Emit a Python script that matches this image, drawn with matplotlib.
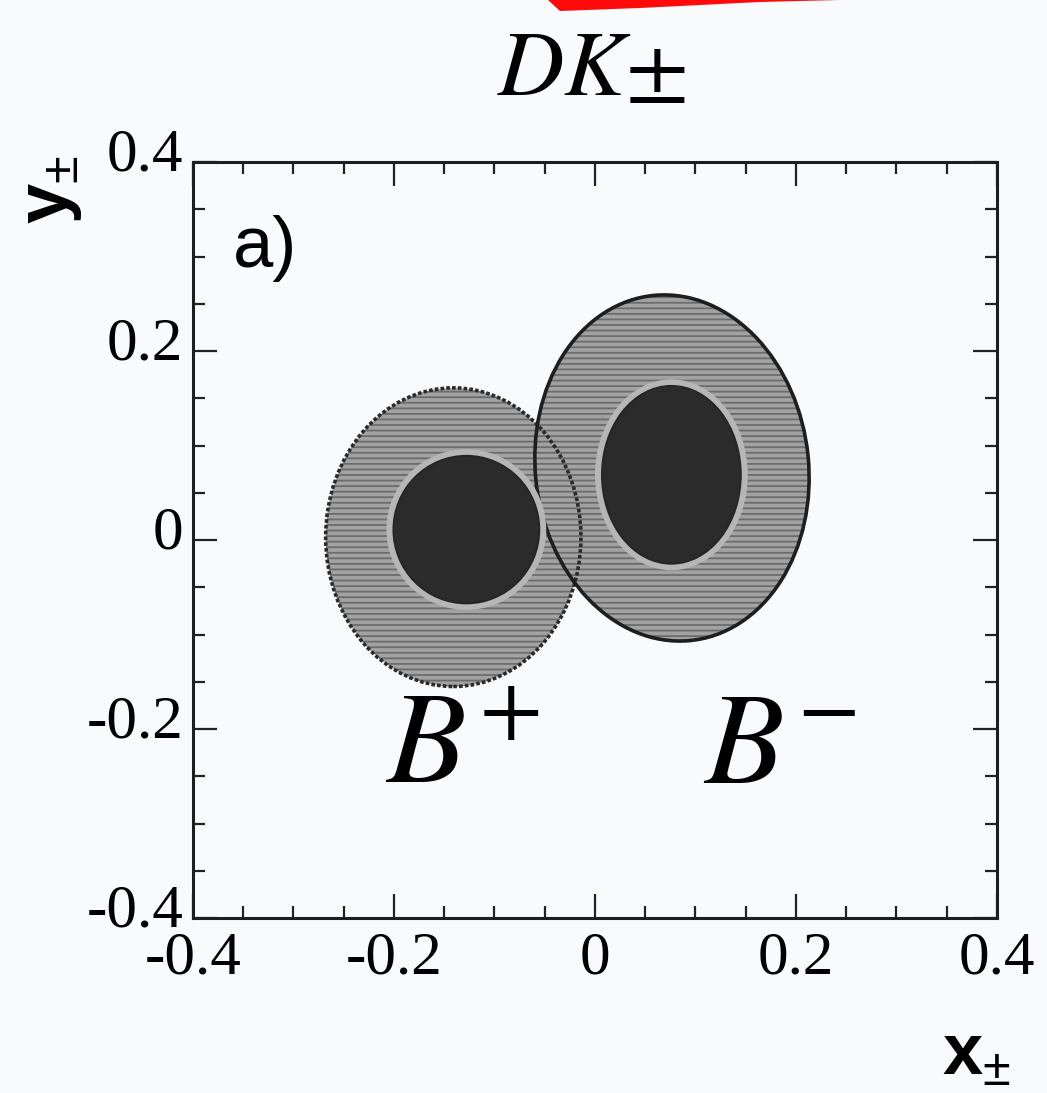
"""Kontury x±, y± pro DK± (B+ a B-)."""

import numpy as np
import matplotlib.pyplot as plt
from matplotlib.patches import Ellipse, Polygon
from matplotlib.transforms import ScaledTranslation

plt.rcParams['font.family'] = ['Liberation Serif', 'DejaVu Serif']
plt.rcParams['axes.unicode_minus'] = False
plt.rcParams['mathtext.fontset'] = 'custom'
plt.rcParams['mathtext.rm'] = 'Liberation Sans'
plt.rcParams['mathtext.bf'] = 'Liberation Sans:bold'
plt.rcParams['hatch.linewidth'] = 1.3

# B+ , B-
labels = [r'$B^{+}$', r'$B^{-}$']

# vnitřní kontura (1 sigma): střed, plné osy
in_x = [-0.128, 0.076]
in_y = [0.011, 0.069]
in_w = [0.145, 0.138]
in_h = [0.156, 0.188]

# vnější kontura (2 sigma)
out_x = [-0.141, 0.0766]
out_y = [0.003, 0.0762]
out_w = [0.254, 0.272]
out_h = [0.316, 0.367]
out_angle = [0.0, 5.4]

# osy
ticks = [-0.4, -0.2, 0.0, 0.2, 0.4]
tick_labels = ['-0.4', '-0.2', '0', '0.2', '0.4']
minor = np.arange(-0.4, 0.401, 0.05)

bg = '#f8fafb'
fig = plt.figure(figsize=(10.47, 10.93), dpi=100, facecolor=bg)
ax = fig.add_axes([193 / 1047, 1 - 918 / 1093, 804 / 1047, 756 / 1093])
ax.set_facecolor(bg)

# výplň vnějších kontur
for i in range(2):
    ax.add_patch(Ellipse((out_x[i], out_y[i]), out_w[i], out_h[i], angle=out_angle[i],
                         facecolor='#a2a2a2', edgecolor='#6c6c6c', linewidth=0,
                         hatch='---', zorder=2))

# obrysy vnějších kontur
ax.add_patch(Ellipse((out_x[0], out_y[0]), out_w[0], out_h[0], angle=out_angle[0],
                     fill=False, edgecolor='#2a2a2a', linewidth=2.6,
                     linestyle=(0, (1, 0.6)), zorder=3))
ax.add_patch(Ellipse((out_x[1], out_y[1]), out_w[1], out_h[1], angle=out_angle[1],
                     fill=False, edgecolor='#1e1e1e', linewidth=2.6, zorder=3))

# vnitřní kontury se světlým lemem
for i in range(2):
    ax.add_patch(Ellipse((in_x[i], in_y[i]), in_w[i] + 0.014, in_h[i] + 0.014,
                         facecolor='#b6b6b6', edgecolor='none', zorder=4))
    ax.add_patch(Ellipse((in_x[i], in_y[i]), in_w[i], in_h[i],
                         facecolor='#2b2b2b', edgecolor='#262626', linewidth=1.5, zorder=5))

ax.set_xlim(-0.4, 0.4)
ax.set_ylim(-0.4, 0.4)
ax.set_xticks(ticks)
ax.set_xticklabels(tick_labels)
ax.set_yticks(ticks)
ax.set_yticklabels(tick_labels)
ax.set_xticks(minor, minor=True)
ax.set_yticks(minor, minor=True)
ax.tick_params(which='both', direction='in', top=True, right=True,
               width=1.6, color='#222222', labelsize=44)
ax.tick_params(which='major', length=17)
ax.tick_params(which='minor', length=8.5)
ax.tick_params(axis='x', pad=9)
ax.tick_params(axis='y', pad=7)
for s in ax.spines.values():
    s.set_linewidth(2.2)
    s.set_color('#1e1e1e')

# popisky y o kousek výš
for lab in ax.get_yticklabels():
    lab.set_transform(lab.get_transform() + ScaledTranslation(0, 9 / 72, fig.dpi_scale_trans))

# texty v grafu
ax.text(-0.36, 0.289, 'a)', family='Liberation Sans', fontsize=52, ha='left', va='baseline')
ax.text(-0.209, -0.257, labels[0], math_fontfamily='stix', fontsize=94, ha='left', va='baseline')
ax.text(0.1075, -0.257, labels[1], math_fontfamily='stix', fontsize=94, ha='left', va='baseline')

# titulek a názvy os
fig.text(591 / 1047, 1 - 95 / 1093, r'$DK{\pm}$', math_fontfamily='stix', fontsize=66,
         ha='center', va='baseline')
fig.text(52 / 1047, 1 - 190 / 1093, r'$\mathbf{y}_{\pm}$', fontsize=52, rotation=90,
         ha='center', va='center')
fig.text(976 / 1047, 1 - 1057 / 1093, r'$\mathbf{x}_{\pm}$', fontsize=52,
         ha='center', va='center')

# červená čára u horního okraje
fig.add_artist(Polygon([[548 / 1047, 1.0], [560 / 1047, 1 - 11 / 1093],
                        [640 / 1047, 1 - 8 / 1093], [760 / 1047, 1 - 2 / 1093],
                        [840 / 1047, 1.0]],
                       closed=True, transform=fig.transFigure,
                       facecolor='#ff0a0a', edgecolor='none'))

plt.savefig('out.png', dpi=100, facecolor=bg)
